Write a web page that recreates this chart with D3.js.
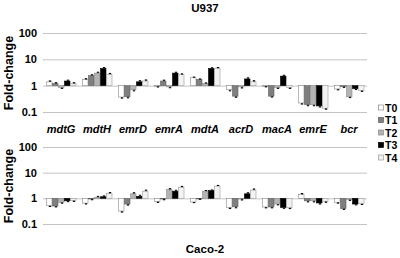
<!DOCTYPE html>
<html><head><meta charset="utf-8">
<script src="https://cdn.jsdelivr.net/npm/d3@7"></script>
<style>body{margin:0;background:#fff}svg{display:block}text{font-family:Arial,"Liberation Sans",sans-serif;font-weight:bold}</style>
</head><body><svg id="c" width="400" height="258"></svg>
<script>
const genes = ["mdtG","mdtH","emrD","emrA","mdtA","acrD","macA","emrE","bcr"];
const series = ["T0","T1","T2","T3","T4"];
const tickValues = [0.1,1,10,100];
const tickLabels = ["0.1","1","10","100"];
const panelTitles = ["U937","Caco-2"];
// U937 fold-change per gene, one array per time point
const u937T0 = [1.4,1.7,0.37,0.96,2.0,0.7,0.97,0.22,0.75];
const u937T1 = [1.2,2.4,0.38,1.5,1.7,0.4,0.4,0.19,0.93];
const u937T2 = [0.85,3.0,0.7,0.9,1.2,0.9,0.85,0.19,0.38];
const u937T3 = [1.5,4.5,1.4,3.0,4.5,1.8,2.3,0.17,0.77];
const u937T4 = [1.2,2.7,1.5,2.6,4.6,1.4,0.85,0.14,0.66];
// Caco-2 fold-change
const cacoT0 = [0.52,0.65,0.32,0.75,0.72,0.44,0.46,1.4,0.7];
const cacoT1 = [0.5,0.95,0.6,0.95,0.97,0.47,0.46,0.8,0.4];
const cacoT2 = [0.7,1.1,1.5,2.2,1.9,0.95,0.6,0.8,0.9];
const cacoT3 = [0.8,1.15,1.2,1.9,2.0,1.5,0.44,0.66,0.6];
const cacoT4 = [0.82,1.55,1.9,2.7,3.0,2.1,0.43,0.77,0.62];
// relative error (fraction of value), small
const u937Err = [0.08,0.08,0.1,0.08,0.06,0.1,0.08,0.1,0.08];
const cacoErr = [0.08,0.08,0.1,0.08,0.06,0.1,0.08,0.1,0.08];

const fills = ["#ffffff","#7f7f7f","#b3b3b3","#000000","#f2f2f2"];
const strokes = ["#8a8a8a","#606060","#8a8a8a","#000000","#9a9a9a"];

const svg = d3.select("#c");
const x0 = d3.scaleBand().domain(genes).range([43,367]);
const x1 = d3.scaleBand().domain(series).range([3,33]);

const panels = [
  {title:panelTitles[0], data:[u937T0,u937T1,u937T2,u937T3,u937T4], err:u937Err, top:33, bottom:112, titleY:12, labelY:73},
  {title:panelTitles[1], data:[cacoT0,cacoT1,cacoT2,cacoT3,cacoT4], err:cacoErr, top:147, bottom:224, titleY:253, labelY:186}
];

panels.forEach(p => {
  const y = d3.scaleLog().domain([0.1,100]).range([p.bottom,p.top]);
  const g = svg.append("g");
  const ax = g.append("g").attr("transform","translate(43,0)")
    .call(d3.axisLeft(y).tickValues(tickValues).tickSize(-324).tickPadding(6)
      .tickFormat((d,i)=>tickLabels[i]));
  ax.select(".domain").remove();
  ax.selectAll(".tick line").attr("stroke","#c4c4c4").attr("stroke-width",1);
  ax.selectAll(".tick text").attr("font-size",11).attr("fill","#000").attr("font-weight","bold");
  g.append("text").attr("transform",`translate(13,${p.labelY}) rotate(-90)`)
    .attr("text-anchor","middle").attr("font-size",12.5).text("Fold-change");
  g.append("text").attr("x",205).attr("y",p.titleY).attr("text-anchor","middle")
    .attr("font-size",11.5).text(p.title);
  const y1 = y(1);
  series.forEach((s,si) => {
    const vals = p.data[si];
    const sg = g.append("g");
    sg.selectAll("rect").data(genes).join("rect")
      .attr("x",(d)=>x0(d)+x1(s)+0.5)
      .attr("width",x1.bandwidth()-0.5)
      .attr("y",(d,i)=>Math.min(y(vals[i]),y1))
      .attr("height",(d,i)=>Math.max(Math.abs(y(vals[i])-y1),0.5))
      .attr("fill",fills[si]).attr("stroke",strokes[si]).attr("stroke-width",0.6);
    sg.selectAll("path").data(genes).join("path")
      .attr("d",(d,i)=>{
        const v = vals[i], e = p.err[i];
        const ve = v>=1 ? v*(1+e) : v/(1+e);
        const cx = x0(d)+x1(s)+x1.bandwidth()/2+1;
        return `M${cx},${y(v)}V${y(ve)}M${cx-1.2},${y(ve)}H${cx+1.2}`;
      })
      .attr("stroke","#000").attr("stroke-width",1).attr("fill","none");
  });
});

// category labels
svg.append("g").selectAll("text").data(genes).join("text")
  .attr("x",d=>x0(d)+x0.bandwidth()/2).attr("y",133)
  .attr("text-anchor","middle").attr("font-size",11).attr("font-style","italic").text(d=>d);

// legend
const lg = svg.append("g");
series.forEach((s,i)=>{
  const ly = 108 + i*12.5;
  lg.append("rect").attr("x",378.5).attr("y",ly-3).attr("width",5).attr("height",5)
    .attr("fill",fills[i]).attr("stroke",strokes[i]).attr("stroke-width",0.7);
  lg.append("text").attr("x",385).attr("y",ly+3.5).attr("font-size",10.5).text(s);
});
</script></body></html>
